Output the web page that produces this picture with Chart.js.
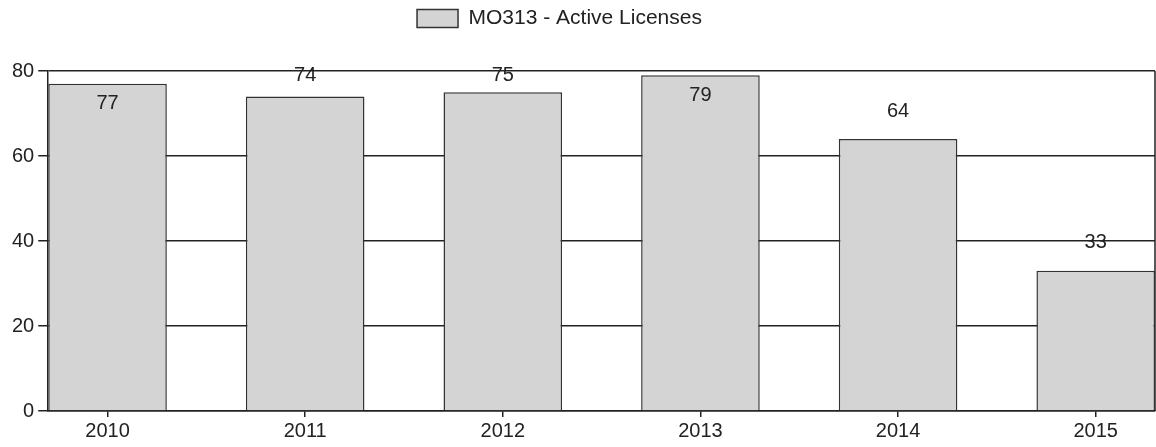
<!DOCTYPE html>
<html lang="en">
  <head>
    <meta charset="UTF-8" />
    <title>MO313 - Active Licenses</title>
    <script src="https://cdn.jsdelivr.net/npm/chart.js@4.4.0/dist/chart.umd.min.js"></script>
    <style>
      html, body { margin: 0; padding: 0; background: #fff; }
      #wrap { width: 1156px; height: 447px; }
    </style>
  </head>
  <body>
    <div id="wrap"><canvas id="chart"></canvas></div>
    <script>
      // data
      const years = ["2010", "2011", "2012", "2013", "2014", "2015"];
      const licenses = [77, 74, 75, 79, 64, 33];
      const yTicks = [0, 20, 40, 60, 80];

      const ink = "#222";
      const family = "'Liberation Sans', Arial, sans-serif";
      const font = { family: family, size: 20 };

      // value labels: above the bar if there is room, otherwise inside it
      const valueLabels = {
        id: "valueLabels",
        afterDatasetsDraw(chart) {
          const ctx = chart.ctx;
          const top = chart.chartArea.top;
          ctx.save();
          ctx.font = font.size + "px " + font.family;
          ctx.fillStyle = ink;
          ctx.textAlign = "center";
          ctx.textBaseline = "middle";
          chart.getDatasetMeta(0).data.forEach((bar, i) => {
            const room = bar.y - top;
            let y;
            if (room >= 20) y = Math.max(bar.y - 28, top + 4);
            else y = bar.y + 20;
            ctx.fillText(String(licenses[i]), bar.x, y);
          });
          ctx.restore();
        }
      };

      // right-hand frame line
      const frame = {
        id: "frame",
        beforeDatasetsDraw(chart) {
          const a = chart.chartArea;
          const ctx = chart.ctx;
          ctx.save();
          ctx.strokeStyle = ink;
          ctx.lineWidth = 1.5;
          ctx.beginPath();
          ctx.moveTo(a.right, a.top);
          ctx.lineTo(a.right, a.bottom);
          ctx.stroke();
          ctx.restore();
        }
      };

      // extra room under the legend, legend sits a bit left of centre
      const legendGap = {
        id: "legendGap",
        beforeInit(chart) {
          const fit = chart.legend.fit;
          chart.legend.fit = function () {
            fit.bind(chart.legend)();
            this.height += 32;
          };
        },
        afterLayout(chart) {
          chart.legend.left -= 44;
        }
      };

      const ctx = document.getElementById("chart").getContext("2d");
      new Chart(ctx, {
        type: "bar",
        data: {
          datasets: [
            {
              label: "MO313 - Active Licenses",
              data: licenses.map((v, i) => ({ x: i, y: v })),
              backgroundColor: "#d4d4d4",
              borderColor: "#333",
              borderWidth: 1.5,
              barPercentage: 0.6,
              categoryPercentage: 1
            }
          ]
        },
        options: {
          responsive: true,
          maintainAspectRatio: false,
          animation: false,
          layout: { padding: { left: 8, right: 1, top: 0, bottom: 2 } },
          plugins: {
            tooltip: { enabled: false },
            legend: {
              position: "top",
              labels: {
                color: ink,
                font: { family: family, size: 21 },
                boxWidth: 41,
                boxHeight: 18,
                padding: 8
              }
            }
          },
          scales: {
            x: {
              type: "linear",
              min: -0.3,
              max: years.length - 0.7,
              offset: false,
              grid: { offset: false, drawOnChartArea: false, drawTicks: true, tickLength: 6, color: ink, lineWidth: 1.5 },
              border: { display: true, color: ink, width: 1.5 },
              ticks: {
                includeBounds: false,
                stepSize: 1,
                color: ink,
                font: font,
                padding: 2,
                callback: (v) => years[v] ?? ""
              }
            },
            y: {
              min: yTicks[0],
              max: yTicks[yTicks.length - 1],
              grid: { color: ink, lineWidth: 1.5, tickLength: 10 },
              border: { display: true, color: ink, width: 1.5 },
              ticks: { stepSize: 20, color: ink, font: font, padding: 4 }
            }
          }
        },
        plugins: [legendGap, frame, valueLabels]
      });
    </script>
  </body>
</html>
